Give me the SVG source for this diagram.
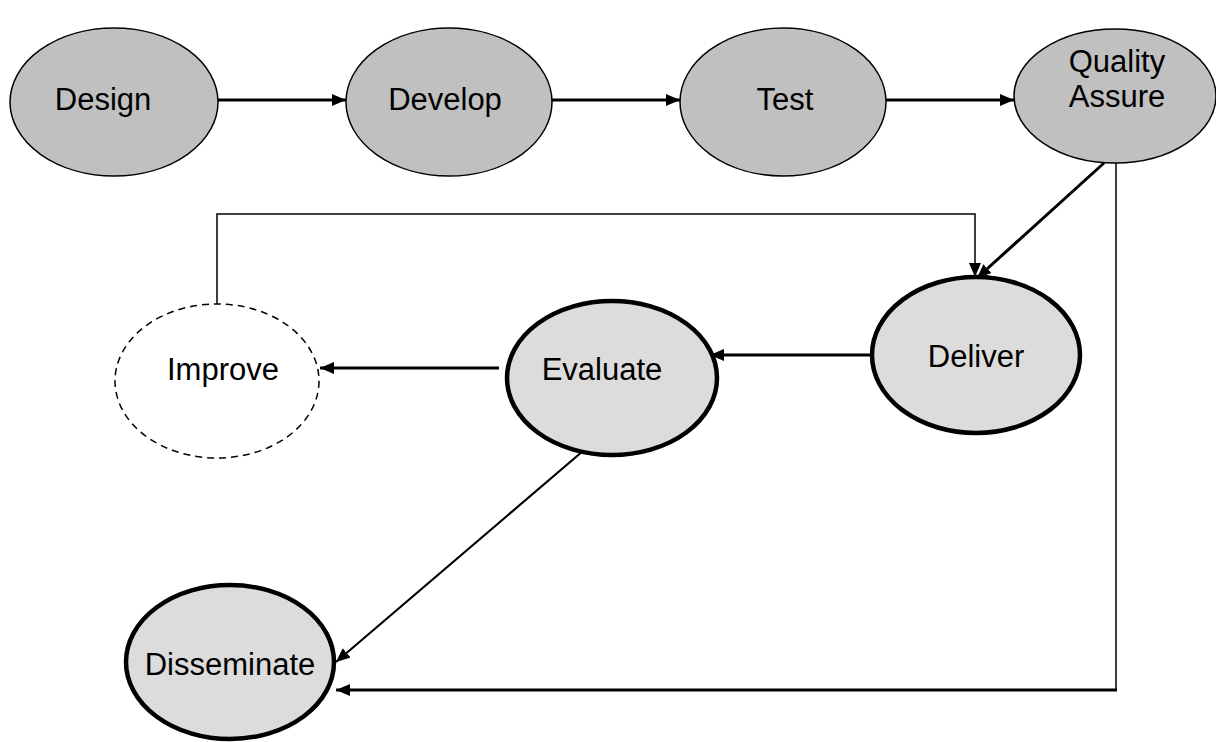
<svg xmlns="http://www.w3.org/2000/svg" width="1216" height="742" viewBox="0 0 1216 742">
<style>
.top{fill:#c0c0c0;stroke:#000;stroke-width:1.5}
.bot{fill:#dcdcdc;stroke:#000;stroke-width:4.5}
.dash{fill:#fff;stroke:#000;stroke-width:1.5;stroke-dasharray:7 5}
text{font-family:"Liberation Sans",Arial,sans-serif;font-size:31px;fill:#000;text-anchor:middle}
.c{fill:none;stroke:#000}
.thick{stroke-width:3}
.mid{stroke-width:2.2}
.thin{stroke-width:1.5}
</style>
<defs>
<marker id="ah" markerUnits="userSpaceOnUse" markerWidth="16" markerHeight="14" refX="14" refY="6" orient="auto">
<path d="M0,0 L14,6 L0,12 Z" fill="#000"/>
</marker>
</defs>
<g id="connectors">
<line class="c thick" x1="218" y1="100" x2="346" y2="100" marker-end="url(#ah)"/>
<line class="c thick" x1="552" y1="100" x2="680" y2="100" marker-end="url(#ah)"/>
<line class="c thick" x1="886" y1="100" x2="1014" y2="100" marker-end="url(#ah)"/>
<line class="c thick" x1="1104" y1="163" x2="977" y2="278" marker-end="url(#ah)"/>
<polyline class="c thin" points="217,304 217,214 975,214 975,277" marker-end="url(#ah)"/>
<line class="c thick" x1="872" y1="355" x2="710" y2="355" marker-end="url(#ah)"/>
<line class="c thick" x1="499" y1="368" x2="320" y2="368" marker-end="url(#ah)"/>
<line class="c mid" x1="590" y1="445" x2="336" y2="662" marker-end="url(#ah)"/>
<line class="c thin" x1="1116" y1="163" x2="1116" y2="690"/>
<line class="c thick" x1="1117" y1="690" x2="336" y2="690" marker-end="url(#ah)"/>
</g>
<g id="design"><ellipse class="top" cx="114" cy="102" rx="104" ry="74"/><text x="103" y="110">Design</text></g>
<g id="develop"><ellipse class="top" cx="449" cy="102" rx="103" ry="74"/><text x="445" y="110">Develop</text></g>
<g id="test"><ellipse class="top" cx="783" cy="102" rx="103" ry="74"/><text x="785" y="110">Test</text></g>
<g id="quality-assure"><ellipse class="top" cx="1115" cy="96" rx="101" ry="67"/><text x="1117" y="72">Quality</text><text x="1117" y="107">Assure</text></g>
<g id="deliver"><ellipse class="bot" cx="976" cy="355" rx="104" ry="78"/><text x="976" y="367">Deliver</text></g>
<g id="evaluate"><ellipse class="bot" cx="612" cy="378" rx="105" ry="77"/><text x="602" y="380">Evaluate</text></g>
<g id="improve"><ellipse class="dash" cx="217" cy="381" rx="102" ry="77"/><text x="223" y="380">Improve</text></g>
<g id="disseminate"><ellipse class="bot" cx="230" cy="662" rx="104" ry="77"/><text x="230" y="675">Disseminate</text></g>
</svg>
